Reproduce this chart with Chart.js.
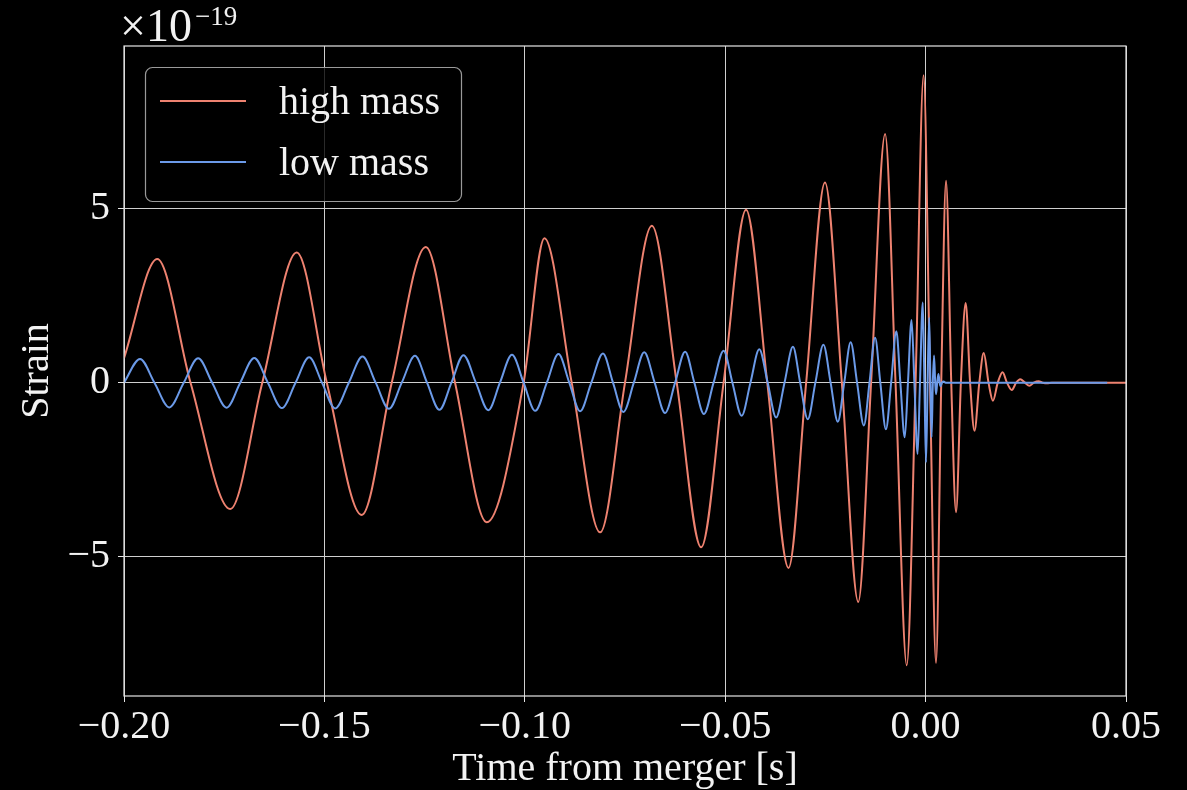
<!DOCTYPE html>
<html>
<head>
<meta charset="utf-8">
<script src="https://cdn.jsdelivr.net/npm/chart.js@4"></script>
<style>
  html, body { margin: 0; padding: 0; background: #000; }
  #wrap { width: 1187px; height: 790px; position: relative; background: #000; }
</style>
</head>
<body>
<div id="wrap"><canvas id="strain"></canvas></div>
<script>
const highMassT = [-0.2, -0.1917, -0.1834, -0.1735, -0.1655, -0.1569, -0.1494, -0.1407, -0.1332, -0.1247,
  -0.1174, -0.1095, -0.1003, -0.0951, -0.0883, -0.0812, -0.075, -0.0683, -0.0621, -0.056,
  -0.0504, -0.0448, -0.0395, -0.0342, -0.0298, -0.0251, -0.0209, -0.0168, -0.0136, -0.0101,
  -0.0075, -0.0047, -0.0025, -0.0005, 0.0011, 0.0026, 0.0039, 0.0051, 0.0064, 0.0076,
  0.0088, 0.0100, 0.0111, 0.0122, 0.0134, 0.0145, 0.0157, 0.0168, 0.0180, 0.0192,
  0.0203, 0.0215, 0.0226, 0.0236, 0.0248, 0.0259, 0.0270, 0.0282, 0.0292, 0.0303,
  0.0315, 0.05];
const highMassStrain = [0.7, 3.55, 0, -3.63, 0, 3.74, 0, -3.80, 0, 3.90,
  0, -4.01, 0, 4.15, 0, -4.30, 0, 4.51, 0, -4.73,
  0, 4.97, 0, -5.32, 0, 5.75, 0, -6.30, 0, 7.14,
  0, -8.12, 0, 8.83, 0, -8.05, 0, 5.80, 0, -3.72,
  0, 2.29, 0, -1.38, 0, 0.85, 0, -0.52, 0, 0.30,
  0, -0.21, 0, 0.10, 0, -0.09, 0, 0.04, 0, -0.02,
  0, 0];

const lowMassT = [-0.2, -0.196, -0.1924, -0.1887, -0.1851, -0.1815, -0.178, -0.1744, -0.171, -0.1675,
  -0.1641, -0.1606, -0.1572, -0.1538, -0.1506, -0.1473, -0.1439, -0.1405, -0.1372, -0.1339,
  -0.1307, -0.1274, -0.1244, -0.1213, -0.1183, -0.1153, -0.1122, -0.1091, -0.1062, -0.1032,
  -0.1003, -0.0974, -0.0945, -0.0916, -0.0889, -0.0862, -0.0834, -0.0805, -0.078, -0.0754,
  -0.0728, -0.0702, -0.0676, -0.065, -0.0625, -0.06, -0.0577, -0.0553, -0.0529, -0.0504,
  -0.0482, -0.0459, -0.0437, -0.0415, -0.0394, -0.0373, -0.0352, -0.0331, -0.0313, -0.0294,
  -0.0275, -0.0255, -0.0237, -0.0219, -0.0203, -0.0187, -0.0171, -0.0154, -0.014, -0.0126,
  -0.0113, -0.0099, -0.0086, -0.0073, -0.0063, -0.0052, -0.0044, -0.0035, -0.0028, -0.002,
  -0.0014, -0.0007, -0.0003, 0.0001, 0.0005, 0.0009, 0.0012, 0.0015, 0.0018, 0.0021,
  0.0024, 0.0026, 0.0029, 0.0032, 0.0035, 0.0037, 0.0041, 0.0045, 0.005, 0.0453];
const lowMassStrain = [0, 0.68, 0, -0.71, 0, 0.70, 0, -0.72, 0, 0.71,
  0, -0.73, 0, 0.73, 0, -0.74, 0, 0.75, 0, -0.75,
  0, 0.77, 0, -0.78, 0, 0.79, 0, -0.79, 0, 0.80,
  0, -0.81, 0, 0.82, 0, -0.82, 0, 0.84, 0, -0.84,
  0, 0.87, 0, -0.87, 0, 0.89, 0, -0.90, 0, 0.92,
  0, -0.95, 0, 0.96, 0, -1.00, 0, 1.03, 0, -1.05,
  0, 1.09, 0, -1.12, 0, 1.16, 0, -1.23, 0, 1.29,
  0, -1.34, 0, 1.48, 0, -1.57, 0, 1.80, 0, -2.05,
  0, 2.30, 0, -2.29, 0, 1.87, 0, -1.57, 0, 0.78,
  0, -0.33, 0, 0.25, 0, -0.10, 0, 0.03, 0, 0];

const xTicks = [-0.2, -0.15, -0.1, -0.05, 0, 0.05];
const yTicks = [-5, 0, 5];
const seriesNames = ['high mass', 'low mass'];
const seriesColors = ['#ee8270', '#6b9ae8'];

const serif = "'Liberation Serif', 'DejaVu Serif', serif";
const signed = (v, digits) => (v < 0 ? '\u2212' : '') + Math.abs(v).toFixed(digits);

const toPoints = (ts, vs) => ts.map((t, i) => ({x: t, y: vs[i]}));

// frame, offset text and boxed legend drawn the matplotlib way
const decor = {
  id: 'decor',
  afterDraw(chart) {
    const {ctx, chartArea: a} = chart;
    ctx.save();
    ctx.strokeStyle = '#e6e6e6';
    ctx.lineWidth = 1.2;
    ctx.strokeRect(a.left, a.top, a.right - a.left, a.bottom - a.top);

    ctx.fillStyle = '#f2f2f2';
    ctx.textBaseline = 'alphabetic';
    ctx.font = '46px ' + serif;
    ctx.fillText('\u00d710', 120, 41);
    const w = ctx.measureText('\u00d710').width;
    ctx.font = '27px ' + serif;
    ctx.fillText('\u221219', 120 + w + 3, 25);

    // legend
    const bx = 145.5, by = 67.5, bw = 316, bh = 134, r = 7;
    ctx.beginPath();
    ctx.moveTo(bx + r, by);
    ctx.arcTo(bx + bw, by, bx + bw, by + bh, r);
    ctx.arcTo(bx + bw, by + bh, bx, by + bh, r);
    ctx.arcTo(bx, by + bh, bx, by, r);
    ctx.arcTo(bx, by, bx + bw, by, r);
    ctx.closePath();
    ctx.fillStyle = 'rgba(0,0,0,0.8)';
    ctx.fill();
    ctx.strokeStyle = '#9a9a9a';
    ctx.lineWidth = 1.2;
    ctx.stroke();

    ctx.font = '40px ' + serif;
    seriesNames.forEach((name, i) => {
      const y = 101 + i * 61;
      ctx.strokeStyle = seriesColors[i];
      ctx.lineWidth = 2;
      ctx.beginPath();
      ctx.moveTo(160, y);
      ctx.lineTo(246, y);
      ctx.stroke();
      ctx.fillStyle = '#f2f2f2';
      ctx.fillText(name, 279, y + 13);
    });
    ctx.restore();
  }
};

new Chart(document.getElementById('strain'), {
  type: 'line',
  data: {
    datasets: [
      {
        label: seriesNames[0],
        data: toPoints(highMassT, highMassStrain),
        borderColor: seriesColors[0],
        order: 2
      },
      {
        label: seriesNames[1],
        data: toPoints(lowMassT, lowMassStrain),
        borderColor: seriesColors[1],
        order: 1
      }
    ]
  },
  options: {
    responsive: true,
    maintainAspectRatio: false,
    animation: false,
    events: [],
    layout: { padding: { top: 46, right: 61, left: 0, bottom: 0 } },
    elements: {
      point: { radius: 0 },
      line: { borderWidth: 2, cubicInterpolationMode: 'monotone', fill: false }
    },
    plugins: { legend: { display: false }, tooltip: { enabled: false } },
    scales: {
      x: {
        type: 'linear',
        min: -0.2,
        max: 0.05,
        afterBuildTicks: s => { s.ticks = xTicks.map(v => ({value: v})); },
        afterFit: s => { s.height = 94; },
        border: { display: false },
        grid: { color: '#cfcfcf', lineWidth: 1, tickLength: 6, tickColor: '#e6e6e6' },
        ticks: {
          color: '#f2f2f2',
          padding: 1,
          maxRotation: 0,
          font: { family: serif, size: 40 },
          callback: v => signed(v, 2)
        },
        title: {
          display: true,
          text: 'Time from merger [s]',
          color: '#f2f2f2',
          padding: { top: 0, bottom: -3 },
          font: { family: serif, size: 40 }
        }
      },
      y: {
        min: -9.0,
        max: 9.67,
        afterBuildTicks: s => { s.ticks = yTicks.map(v => ({value: v})); },
        afterFit: s => { s.width = 124; },
        border: { display: false },
        grid: { color: '#cfcfcf', lineWidth: 1, tickLength: 6, tickColor: '#e6e6e6' },
        ticks: {
          color: '#f2f2f2',
          padding: 8,
          font: { family: serif, size: 40 },
          callback: v => signed(v, 0)
        },
        title: {
          display: true,
          text: 'Strain',
          color: '#f2f2f2',
          padding: { top: 13, bottom: 0 },
          font: { family: serif, size: 40 }
        }
      }
    }
  },
  plugins: [decor]
});
</script>
</body>
</html>
